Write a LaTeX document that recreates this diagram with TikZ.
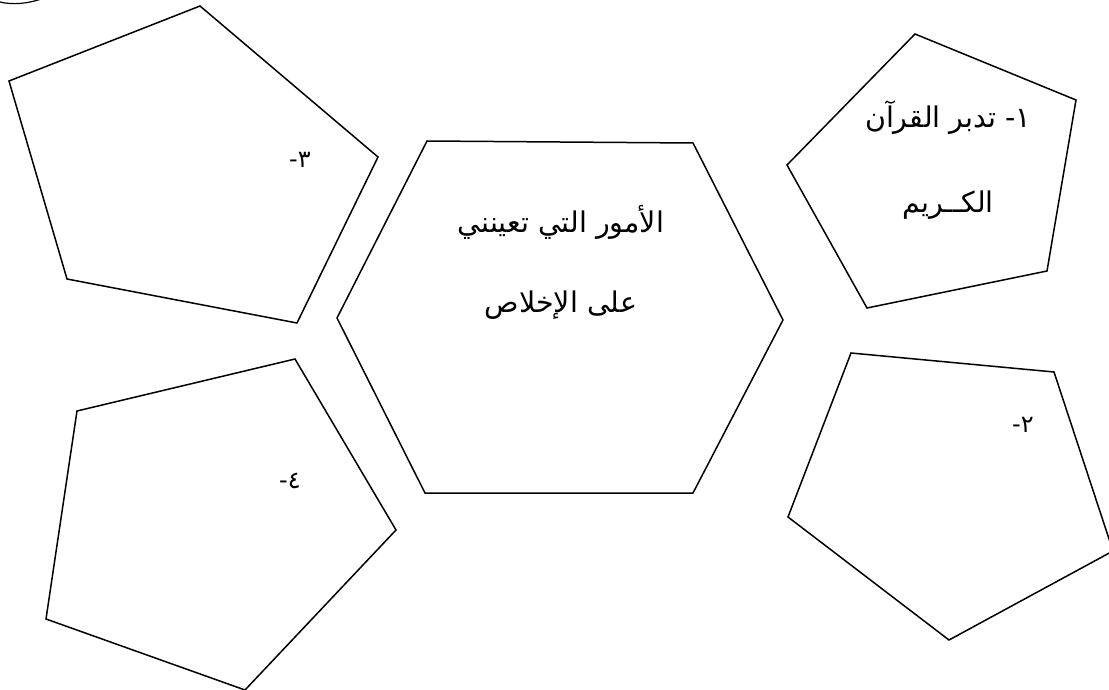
\documentclass[tikz,border=0pt]{standalone}
\usepackage{fontspec}
\newfontfamily\arabicfont[Script=Arabic]{DejaVu Sans}
\TeXXeTstate=1
\tikzset{
  shapeline/.style={draw=black, line width=1.5pt, line join=miter},
  bigtxt/.style={font=\arabicfont\fontsize{28.5}{32}\selectfont, inner sep=0pt},
  numtxt/.style={font=\arabicfont\fontsize{24}{28}\selectfont, inner sep=0pt}
}
\begin{document}
\begin{tikzpicture}[x=1pt,y=-1pt]
\useasboundingbox (0,0) rectangle (1109,690);
\clip (0,0) rectangle (1109,690);
\fill[white] (0,0) rectangle (1109,690);
% corner arc fragment
\draw[line width=1.2pt] (0,2) .. controls (12,5) and (28,4) .. (44,-2);
% pentagon 3 (top-left)
\draw[shapeline] (200,6) -- (378,157) -- (297,323) -- (67,279) -- (9,81) -- cycle;
% hexagon (centre)
\draw[shapeline] (427,141) -- (693,143) -- (783,320) -- (693,493) -- (425,493) -- (337,318) -- cycle;
% pentagon 1 (top-right)
\draw[shapeline] (915,34) -- (1076,100) -- (1047,271) -- (867,308) -- (787,165) -- cycle;
% pentagon 2 (bottom-right)
\draw[shapeline] (851,353) -- (1054,372) -- (1113,551) -- (949,640) -- (788,517) -- cycle;
% pentagon 4 (bottom-left)
\draw[shapeline] (295,359) -- (396,530) -- (245,690) -- (46,619) -- (77,411) -- cycle;
% texts
\node[bigtxt] (h1) at (561,222) {\beginR الأمور التي تعينني\endR};
\node[bigtxt] (h2) at (561,305) {\beginR على الإخلاص\endR};
\node[bigtxt] (p1a) at (948,118) {\beginR ١- تدبر القرآن\endR};
\node[bigtxt] (p1b) at (948,205) {\beginR الكــريم\endR};
\node[numtxt] (p3) at (300,160) {\beginR ٣-\endR};
\node[numtxt] (p2) at (1023,425) {\beginR ٢-\endR};
\node[numtxt] (p4) at (290,481) {\beginR ٤-\endR};
\end{tikzpicture}
\end{document}
